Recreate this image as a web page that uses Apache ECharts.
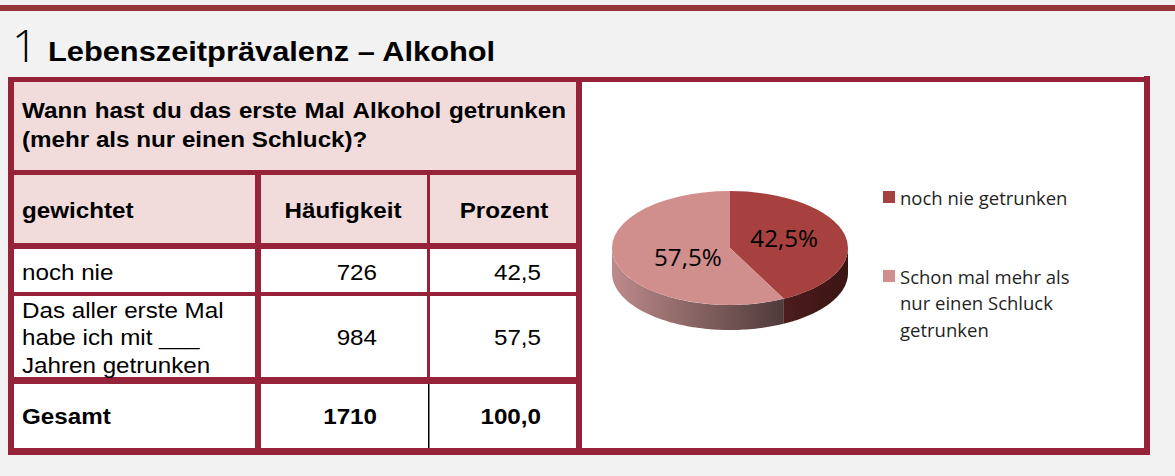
<!DOCTYPE html>
<html><head><meta charset="utf-8">
<script src="https://cdn.jsdelivr.net/npm/echarts@6/dist/echarts.min.js"></script>
<style>html,body{margin:0;padding:0;background:#f2f2f2;}#c{width:1175px;height:476px;}</style>
</head><body><div id="c"></div>
<script>
// ---------- data ----------
const sectionNumber = '1';
const title = 'Lebenszeitprävalenz – Alkohol';
const question = 'Wann hast du das erste Mal Alkohol getrunken (mehr als nur einen Schluck)?';
const headers = ['gewichtet', 'Häufigkeit', 'Prozent'];
const rowLabels = ['noch nie', 'Das aller erste Mal\nhabe ich mit ___\nJahren getrunken'];
const frequencies = [726, 984];
const percents = [42.5, 57.5];
const totalLabel = 'Gesamt';
const totalFrequency = 1710;
const totalPercent = 100.0;
const categories = ['noch nie getrunken', 'Schon mal mehr als nur einen Schluck getrunken'];

// ---------- style ----------
const BORDER = '#96233A';
const TOPBAR = '#963634';
const PINK = '#F2DCDB';
const TOP_COLORS = ['#A6413F', '#D08F8D'];
const SIDE_COLORS = [['#4B1C1B', '#3B1514'], ['#BE8A8A', '#4E3A3A']];
const SX = 1.1;
const TF = '"Liberation Sans", Arial, sans-serif';

const fmt1 = v => v.toFixed(1).replace('.', ',');
const ctx = document.createElement('canvas').getContext('2d');
const mw = (s, font) => { ctx.font = font; return ctx.measureText(s).width; };

const G = [];
function rect(x, y, w, h, fill) {
  G.push({ type: 'rect', silent: true, z: 0, shape: { x, y, width: w, height: h }, style: { fill } });
}
function txt(s, x, y, font, align, opts) {
  opts = opts || {};
  G.push({ type: 'text', silent: true, z: 5, x, y, scaleX: opts.sx == null ? SX : opts.sx,
    style: { text: s, font, fill: opts.fill || '#000', textAlign: align || 'left', textVerticalAlign: 'middle',
      lineHeight: opts.lh } });
}

// top bar
rect(0, 5, 1175, 6, TOPBAR);
// cell fills
rect(14, 82, 562, 161, PINK);
rect(14, 249, 562, 199, '#FFFFFF');
rect(582, 82, 562, 366, '#FFFFFF');
// frame
rect(8, 77, 1142, 5, BORDER);
rect(8, 448, 1142, 7, BORDER);
rect(8, 77, 6, 378, BORDER);
rect(576, 77, 6, 378, BORDER);
rect(1144, 76, 6, 379, BORDER);
// grid lines
rect(14, 170, 562, 5, BORDER);
rect(14, 243, 562, 6, BORDER);
rect(14, 292, 562, 4, BORDER);
rect(14, 377, 562, 7, BORDER);
rect(255, 175, 6, 273, BORDER);
rect(427, 175, 3, 202, BORDER);
rect(428, 384, 1.5, 64, '#000');

// title
txt(sectionNumber, 12, 44, '300 45px "Open Sans", sans-serif', 'left', { sx: 1 });
txt(title, 48, 51, 'bold 28px ' + TF, 'left');

// question, justified wrapping inside the cell
const QF = 'bold 22px ' + TF;
(function () {
  const x0 = 22, x1 = 566, ys = [110.5, 139.5];
  const words = question.split(' ');
  const lines = []; let cur = [];
  const lw = arr => arr.reduce((a, w) => a + mw(w, QF) * SX, 0) + (arr.length - 1) * mw(' ', QF) * SX;
  words.forEach(w => { if (cur.length && lw(cur.concat([w])) > x1 - x0) { lines.push(cur); cur = [w]; } else cur.push(w); });
  lines.push(cur);
  lines.forEach((ln, i) => {
    if (i < lines.length - 1 && ln.length > 1) {
      const wsum = ln.reduce((a, w) => a + mw(w, QF) * SX, 0);
      const gap = (x1 - x0 - wsum) / (ln.length - 1);
      let x = x0;
      ln.forEach(w => { txt(w, x, ys[i], QF, 'left'); x += mw(w, QF) * SX + gap; });
    } else {
      txt(ln.join(' '), x0, ys[i], QF, 'left');
    }
  });
})();

// header row
const HF = 'bold 22px ' + TF, RF = '22px ' + TF;
txt(headers[0], 22, 210.5, HF, 'left');
txt(headers[1], 343, 210.5, HF, 'center');
txt(headers[2], 504, 210.5, HF, 'center');
// data rows
const rowCenters = [272.5, 337.5];
rowLabels.forEach((lab, i) => {
  txt(lab, 22, rowCenters[i], RF, 'left', { lh: 27.5 });
  txt(String(frequencies[i]), 377, rowCenters[i], RF, 'right');
  txt(fmt1(percents[i]), 541, rowCenters[i], RF, 'right');
});
txt(totalLabel, 22, 416.5, HF, 'left');
txt(String(totalFrequency), 377, 416.5, HF, 'right');
txt(fmt1(totalPercent), 541, 416.5, HF, 'right');

// ---------- 3D pie as custom series ----------
const PIE = { cx: 730, cy: 248, rx: 118, ry: 57, depth: 25 };
const total = frequencies.reduce((a, b) => a + b, 0);
let cum = 0;
const sliceData = frequencies.map((f, i) => { const s = cum / total; cum += f; return [s, cum / total, percents[i]]; });

function renderSlice(params, api) {
  const { cx, cy, rx, ry, depth } = PIE;
  const idx = params.seriesIndex;
  const a0 = -Math.PI / 2 + 2 * Math.PI * api.value(0);
  const a1 = -Math.PI / 2 + 2 * Math.PI * api.value(1);
  const children = [];
  const s = Math.max(a0, 0), e = Math.min(a1, Math.PI);
  if (e > s) {
    const pts = [], N = 80;
    for (let k = 0; k <= N; k++) { const t = s + (e - s) * k / N; pts.push([cx + rx * Math.cos(t), cy + ry * Math.sin(t)]); }
    for (let k = N; k >= 0; k--) { const t = s + (e - s) * k / N; pts.push([cx + rx * Math.cos(t), cy + ry * Math.sin(t) + depth]); }
    children.push({ type: 'polygon', shape: { points: pts },
      style: { fill: new echarts.graphic.LinearGradient(0, 0, 1, 0, [
        { offset: 0, color: SIDE_COLORS[idx][0] }, { offset: 1, color: SIDE_COLORS[idx][1] }]) } });
  }
  children.push({ type: 'sector', x: cx, y: cy, scaleY: ry / rx,
    shape: { cx: 0, cy: 0, r0: 0, r: rx, startAngle: a0, endAngle: a1, clockwise: true },
    style: { fill: TOP_COLORS[idx] } });
  const mid = (a0 + a1) / 2;
  children.push({ type: 'text', x: cx + 6 + 0.42 * rx * Math.cos(mid), y: cy + 0.72 * ry * Math.sin(mid), scaleX: 1.05,
    style: { text: fmt1(api.value(2)) + '%', font: '23px "Open Sans", sans-serif', fill: '#000',
      textAlign: 'center', textVerticalAlign: 'middle' } });
  return { type: 'group', children };
}

const legendText = { fontFamily: '"Open Sans", sans-serif', fontSize: 18.5, color: '#1f1f1f', lineHeight: 26.5 };
const chart = echarts.init(document.getElementById('c'), null, { renderer: 'svg' });
chart.setOption({
  backgroundColor: '#F2F2F2',
  animation: false,
  graphic: { elements: G },
  legend: [
    { data: [{ name: categories[0], itemStyle: { color: TOP_COLORS[0] } }], left: 883, top: 183.75, padding: 0,
      orient: 'vertical', icon: 'rect', itemWidth: 12, itemHeight: 12, selectedMode: false, textStyle: legendText },
    { data: [{ name: categories[1], itemStyle: { color: TOP_COLORS[1] } }], left: 883, top: 209.75, padding: 0,
      orient: 'vertical', icon: 'rect', itemWidth: 12, itemHeight: 12, selectedMode: false,
      formatter: name => '\n\n' + name,
      textStyle: Object.assign({}, legendText, { width: 180, overflow: 'break' }) }
  ],
  series: categories.map((name, i) => ({
    type: 'custom', name, coordinateSystem: 'none', z: 10,
    itemStyle: { color: TOP_COLORS[i] },
    renderItem: renderSlice,
    data: [sliceData[i]]
  }))
});
</script></body></html>
